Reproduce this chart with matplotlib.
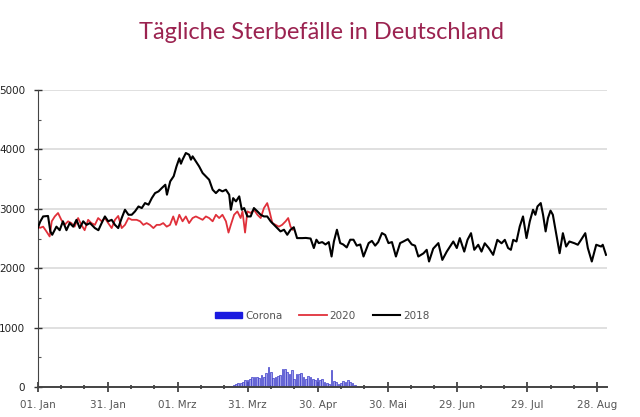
import numpy as np
import matplotlib
matplotlib.use('Agg')
import matplotlib.pyplot as plt
from matplotlib.patches import Patch
from matplotlib.lines import Line2D
from matplotlib.ticker import MultipleLocator

# Tage seit 01. Jan (Schaltjahr-Kalender wie in der Vorlage)
tick_days = [0, 30, 60, 90, 120, 150, 180, 210, 240]
tick_labels = ['01. Jan', '31. Jan', '01. Mrz', '31. Mrz', '30. Apr',
               '30. Mai', '29. Jun', '29. Jul', '28. Aug']

days_2018 = [0, 1, 2.3, 4.4, 5.4, 6.2, 8, 9.4, 10.8, 12.3, 13.7, 15.2, 16.6, 18,
             19.5, 20.9, 22.4, 24.5, 26, 27.4, 28.8, 30.2, 31.7, 33.1, 34.5, 36,
             37.4, 38.9, 40.3, 41.7, 43.2, 44.6, 46, 47.5, 48.9, 50.3, 51.8, 53.2,
             54.7, 55.4, 56.8, 58.3, 59.5, 60.7, 61.4, 62.1, 63.5, 64.9, 65.7, 66.4,
             67.8, 69.2, 70.7, 72.1, 73.5, 75, 76.4, 77.8, 79.2, 80.7, 82.1, 82.8,
             83.8, 85, 86.4, 87.5, 88.5, 89.9, 91.3, 92.7, 94.2, 95.6, 97, 98.4,
             99.9, 101.3, 102.7, 104.1, 105.6, 107, 108.4, 109.8, 111.2, 113.4, 115,
             117, 118.4, 119.5, 120.5, 122, 123.4, 124.8, 126, 127, 128.3, 129.7,
             131, 132.5, 134, 135.4, 136.8, 138.3, 139.7, 141.9, 143.3, 144.7, 146,
             147.6, 149, 150.4, 151.9, 153.6, 155.4, 156.8, 158.7, 160.4, 161.8,
             163.2, 165.4, 166.8, 167.8, 169.6, 171.8, 173.5, 175.4, 176.8, 178.2,
             179.7, 181, 182.9, 184.3, 185.8, 187.2, 188.9, 190.3, 191.7, 193.4,
             195.3, 197.1, 198.9, 200.3, 201.7, 202.9, 203.9, 205.3, 206.7, 208.1,
             209.6, 211, 212.4, 213.4, 214.3, 215.7, 216.7, 217.8, 218.8, 219.9,
             220.9, 222.3, 223.8, 225.2, 226.6, 228, 230.2, 231.6, 233, 234.8, 235.9,
             237.6, 239.5, 241.6, 242.3, 243.7]
deaths_2018 = [2676, 2780, 2872, 2880, 2620, 2563, 2700, 2640, 2790, 2640, 2760, 2700,
               2815, 2676, 2790, 2730, 2760, 2676, 2640, 2760, 2872, 2790, 2815, 2730,
               2676, 2845, 2985, 2900, 2900, 2957, 3040, 3013, 3097, 3070, 3180, 3265,
               3294, 3350, 3406, 3238, 3462, 3550, 3715, 3850, 3760, 3828, 3940, 3912,
               3828, 3884, 3800, 3715, 3603, 3546, 3490, 3322, 3265, 3322, 3294, 3322,
               3238, 2985, 3180, 3125, 3210, 2985, 3013, 2872, 2872, 3013, 2957, 2900,
               2872, 2872, 2788, 2732, 2676, 2620, 2648, 2563, 2648, 2690, 2507, 2507,
               2510, 2500, 2340, 2480, 2423, 2440, 2400, 2440, 2197, 2450, 2648, 2423,
               2400, 2350, 2480, 2480, 2380, 2400, 2197, 2423, 2460, 2380, 2440, 2592,
               2560, 2423, 2440, 2197, 2423, 2450, 2490, 2400, 2380, 2197, 2250, 2310,
               2113, 2330, 2423, 2140, 2280, 2365, 2450, 2340, 2507, 2280, 2478, 2590,
               2310, 2395, 2280, 2420, 2340, 2225, 2478, 2420, 2478, 2340, 2310, 2478,
               2450, 2703, 2872, 2507, 2788, 2985, 2900, 3040, 3097, 2900, 2620, 2845,
               2970, 2900, 2590, 2253, 2590, 2365, 2450, 2420, 2395, 2478, 2590, 2340,
               2113, 2395, 2365, 2395, 2225]

days_2020 = [0, 1, 2.3, 3.7, 5.1, 6, 7.3, 8.7, 10.1, 11.5, 13, 14.4, 15.8, 17.3, 18.7,
             20.1, 21.6, 23, 24.5, 25.9, 27.4, 28.8, 30.2, 31.7, 33.1, 34.5, 36, 37.4,
             38.9, 40.3, 42.4, 43.9, 45.3, 46.7, 48.1, 49.6, 51, 52.4, 53.8, 55.3,
             56.7, 58.1, 59.3, 60.7, 62.1, 63.5, 64.9, 66.4, 67.8, 69.2, 70.7, 72.1,
             73.5, 75, 76.4, 77.8, 79.2, 80.7, 81.8, 82.8, 84.2, 85.6, 87, 87.8, 88.9,
             89.9, 91.3, 92.7, 94.2, 95.6, 97, 98.4, 99.4, 100.6, 102, 103.4, 104.8,
             106.3, 107.4, 108.4, 109.4]
deaths_2020 = [2700, 2680, 2700, 2620, 2535, 2790, 2872, 2930, 2815, 2730, 2790, 2760,
               2700, 2845, 2730, 2640, 2815, 2760, 2730, 2845, 2790, 2845, 2760, 2676,
               2815, 2880, 2676, 2730, 2845, 2815, 2815, 2790, 2730, 2760, 2730, 2676,
               2730, 2730, 2760, 2700, 2730, 2872, 2730, 2900, 2790, 2872, 2760, 2845,
               2872, 2845, 2815, 2872, 2845, 2790, 2900, 2845, 2900, 2790, 2600, 2730,
               2900, 2957, 2845, 2957, 2600, 2957, 2930, 2985, 2900, 2845, 3013, 3097,
               2957, 2760, 2730, 2700, 2730, 2790, 2845, 2700, 2648]

corona_days = list(range(82, 138))
corona_deaths = [5, 15, 30, 45, 60, 75, 90, 110, 120, 140, 165, 175, 160, 150, 200, 160,
                 230, 330, 250, 150, 160, 180, 210, 300, 310, 260, 220, 290, 130, 220,
                 215, 240, 160, 130, 190, 175, 140, 110, 150, 120, 130, 90, 70, 50, 280,
                 100, 90, 55, 70, 100, 80, 110, 90, 70, 40, 20]

fig = plt.figure(figsize=(6.4, 4.17), dpi=100)
ax = fig.add_axes([0.059, 0.072, 0.889, 0.712])

ax.bar(corona_days, corona_deaths, width=0.75, color='#a0a0ea', edgecolor='#3a3ac8',
       linewidth=0.5, zorder=2)
ax.plot(days_2020, deaths_2020, color='#e0303a', lw=1.3, zorder=3)
ax.plot(days_2018, deaths_2018, color='black', lw=1.5, zorder=4)

ax.set_xlim(0, 244)
ax.set_ylim(0, 5000)
ax.yaxis.grid(True, color='#dddddd', lw=1.3)
ax.set_axisbelow(True)
for s in ['top', 'right']:
    ax.spines[s].set_visible(False)
ax.spines['left'].set_color('#444444')
ax.spines['bottom'].set_color('#444444')
ax.spines['bottom'].set_linewidth(1.4)

ax.set_xticks(tick_days)
ax.set_xticklabels(tick_labels)
ax.xaxis.set_minor_locator(MultipleLocator(10))
ax.set_yticks([0, 1000, 2000, 3000, 4000, 5000])
ax.yaxis.set_minor_locator(MultipleLocator(500))
ax.tick_params(axis='x', which='major', direction='inout', length=7, width=1.2,
               color='#333333', labelsize=7.5, labelcolor='#555555', pad=6)
ax.tick_params(axis='x', which='minor', direction='inout', length=3, width=1.2,
               color='#333333')
ax.tick_params(axis='y', which='major', direction='inout', length=6, width=1,
               color='#333333', labelsize=7.5, labelcolor='#222222', pad=6)
ax.tick_params(axis='y', which='minor', direction='in', length=2, width=0.8,
               color='#555555')

handles = [Patch(facecolor='#1a1ae0', edgecolor='#1a1ae0'),
           Line2D([], [], color='#e0303a', lw=1.3),
           Line2D([], [], color='black', lw=1.5)]
ax.legend(handles, ['Corona', '2020', '2018'], loc='center', ncol=3,
          bbox_to_anchor=(0.5, 0.24), frameon=False, fontsize=7.5,
          labelcolor='#555555', handlelength=2.6, handleheight=0.45,
          columnspacing=1.6, handletextpad=0.3)

fig.text(0.503, 0.922, 'Tägliche Sterbefälle in Deutschland', ha='center', va='center',
         fontsize=17, color='#9b2350', family='Lato')

fig.savefig('out.png', dpi=100)
